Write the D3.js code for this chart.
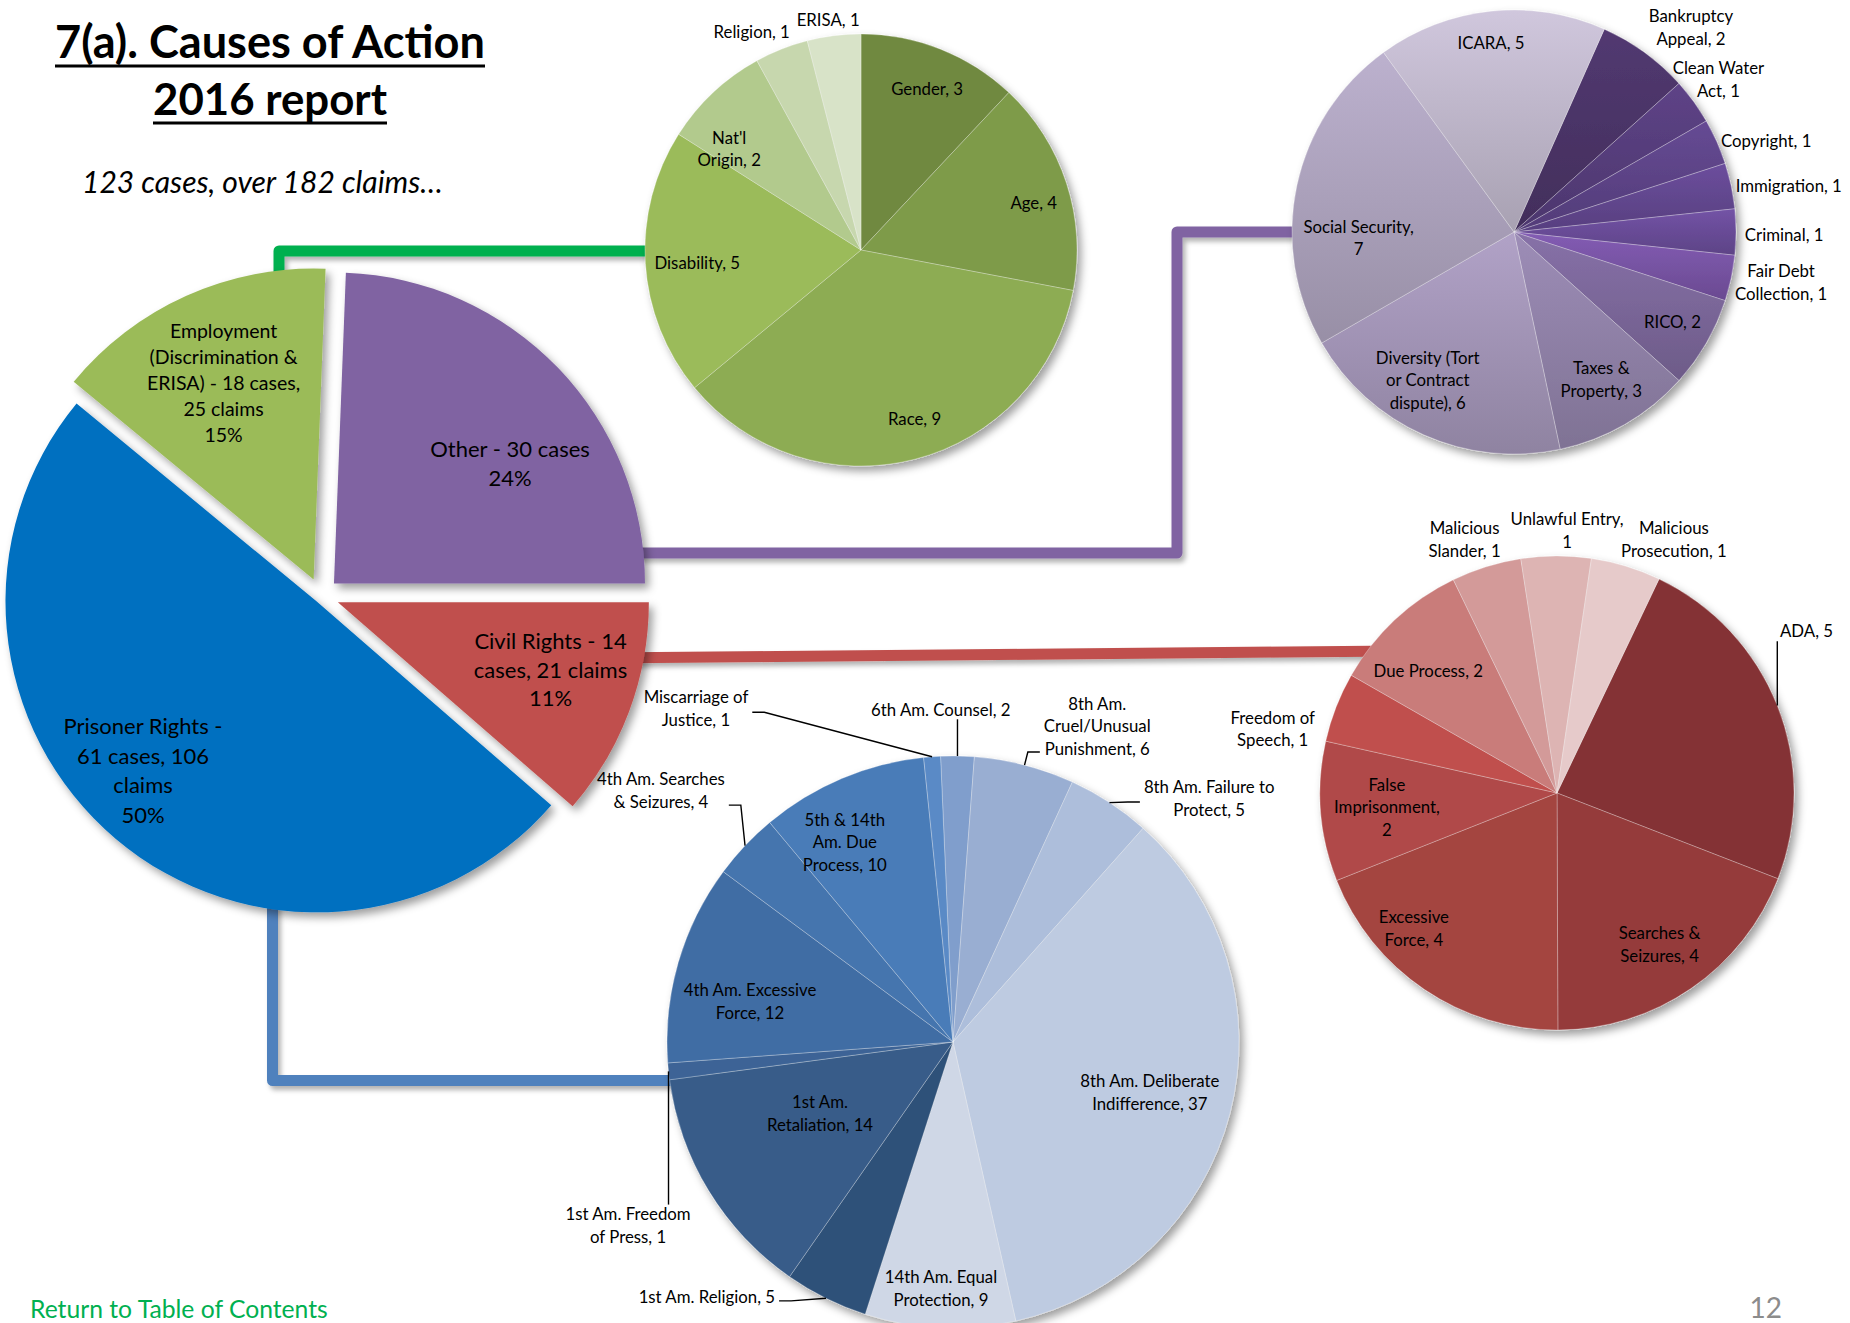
<!DOCTYPE html>
<html><head><meta charset="utf-8">
<script src="https://cdn.jsdelivr.net/npm/d3@7"></script>
<style>
body{margin:0;background:#fff;}
svg{display:block;font-family:Lato,"Open Sans","Noto Sans",sans-serif;}
</style>
</head><body>
<svg id="c" width="1850" height="1323"></svg>
<script>
// ---------------- DATA ----------------
const mainCategories = ["Other", "Civil Rights", "Prisoner Rights", "Employment (Discrimination & ERISA)"];
const mainCases = [30, 14, 61, 18];
const mainClaims = [null, 21, 106, 25];
const totalCases = 123;
const totalClaims = 182;

const employmentCategories = ["Gender", "Age", "Race", "Disability", "Nat'l Origin", "Religion", "ERISA"];
const employmentValues = [3, 4, 9, 5, 2, 1, 1];

const otherCategories = ["Bankruptcy Appeal", "Clean Water Act", "Copyright", "Immigration", "Criminal", "Fair Debt Collection", "RICO", "Taxes & Property", "Diversity (Tort or Contract dispute)", "Social Security", "ICARA"];
const otherValues = [2, 1, 1, 1, 1, 1, 2, 3, 6, 7, 5];

const civilCategories = ["ADA", "Searches & Seizures", "Excessive Force", "False Imprisonment", "Freedom of Speech", "Due Process", "Malicious Slander", "Unlawful Entry", "Malicious Prosecution"];
const civilValues = [5, 4, 4, 2, 1, 2, 1, 1, 1];

const prisonerCategories = ["6th Am. Counsel", "8th Am. Cruel/Unusual Punishment", "8th Am. Failure to Protect", "8th Am. Deliberate Indifference", "14th Am. Equal Protection", "1st Am. Religion", "1st Am. Retaliation", "1st Am. Freedom of Press", "4th Am. Excessive Force", "4th Am. Searches & Seizures", "5th & 14th Am. Due Process", "Miscarriage of Justice"];
const prisonerValues = [2, 6, 5, 37, 9, 5, 14, 1, 12, 4, 10, 1];

// ---------------- STYLE / LAYOUT ----------------
const mainColors = ["#8064A2", "#C0504D", "#0070C0", "#9BBB59"];
const employmentColors = ["#70893F", "#7E9B4A", "#8DAC53", "#9BBB5A", "#B2CA8D", "#C7D7AE", "#D8E3C8"];
const otherColors = ["#4A3466", "#553D7A", "#5C4386", "#62478E", "#684B96", "#7753A3", "#7A6698", "#8E80A6", "#A093B4", "#AAA0BA", "#BCB4C8"];
const civilColors = ["#843234", "#953B3B", "#A44441", "#B04A48", "#C0504D", "#C97B7A", "#D39A99", "#DDB4B3", "#E6CACA"];
const prisonerColors = ["#809ECC", "#99AED2", "#ADBEDB", "#BECBE1", "#CFD7E6", "#2F5179", "#375C89", "#3C6496", "#416DA4", "#4575AE", "#4A7CB8", "#5A8AC6"];

const W = 1850, H = 1323;
const svg = d3.select("#c");
const defs = svg.append("defs");
const flt = defs.append("filter").attr("id", "shadow")
  .attr("x", "-20%").attr("y", "-20%").attr("width", "150%").attr("height", "150%");
flt.append("feDropShadow").attr("dx", 4).attr("dy", 5).attr("stdDeviation", 4)
  .attr("flood-color", "#000").attr("flood-opacity", 0.38);
const flt2 = defs.append("filter").attr("id", "lshadow")
  .attr("x", "-5%").attr("y", "-20%").attr("width", "110%").attr("height", "160%");
flt2.append("feDropShadow").attr("dx", 3).attr("dy", 4).attr("stdDeviation", 2.5)
  .attr("flood-color", "#000").attr("flood-opacity", 0.3);

const rad = d => d * Math.PI / 180;
const deg = r => r * 180 / Math.PI;
const polar = (cx, cy, r, a) => [cx + r * Math.sin(rad(a)), cy - r * Math.cos(rad(a))];

function wrapWords(text, counts) {
  const words = text.split(" ");
  if (!counts) return [text];
  const out = []; let p = 0;
  counts.forEach(c => { out.push(words.slice(p, p + c).join(" ")); p += c; });
  return out;
}

// ---------------- CONNECTORS ----------------
const conn = svg.append("g").attr("filter", "url(#lshadow)")
  .attr("fill", "none").attr("stroke-width", 11).attr("stroke-linejoin", "round");
const line = d3.line();
conn.append("path").attr("stroke", "#00B050").attr("d", line([[279, 320], [279, 251], [720, 251]]));
conn.append("path").attr("stroke", "#8064A2").attr("d", line([[600, 553], [1177, 553], [1177, 232], [1320, 232]]));
conn.append("path").attr("stroke", "#C0504D").attr("d", line([[600, 658], [1400, 651]]));
conn.append("path").attr("stroke", "#4F81BD").attr("d", line([[272.5, 860], [272.5, 1080.5], [720, 1080.5]]));

// ---------------- PIE HELPERS ----------------
let gradCount = 0;
function drawPie(cx, cy, R, values, colors, startDeg, opts = {}) {
  const pie = d3.pie().sort(null).value(d => d)
    .startAngle(rad(startDeg)).endAngle(rad(startDeg) + 2 * Math.PI);
  const arcs = pie(values);
  const arc = d3.arc().innerRadius(0).outerRadius(R);
  const g = svg.append("g").attr("transform", `translate(${cx},${cy})`).attr("filter", "url(#shadow)");
  g.selectAll("path").data(arcs).join("path")
    .attr("d", arc)
    .attr("fill", (d, i) => {
      if (!opts.gradient) return colors[i];
      const id = "g" + (gradCount++);
      const lg = defs.append("linearGradient").attr("id", id)
        .attr("x1", 0).attr("y1", 0).attr("x2", 0).attr("y2", 1);
      lg.append("stop").attr("offset", 0).attr("stop-color", d3.color(colors[i]).brighter(0.28));
      lg.append("stop").attr("offset", 1).attr("stop-color", d3.color(colors[i]).darker(0.32));
      return `url(#${id})`;
    })
    .attr("stroke", "rgba(255,255,255,0.35)")
    .attr("stroke-width", 0.8);
  return arcs;
}

const labelLayer = () => svg.append("g").attr("fill", "#000");

function drawLabels(arcs, cx, cy, R, texts, layout, fs, lh) {
  const layer = labelLayer();
  arcs.forEach((d, i) => {
    const L = layout[i], lines = texts[i];
    const [px, py] = polar(cx, cy, L.k * R, L.a);
    const g = layer.append("g");
    const ts = lines.map(t => g.append("text").text(t).attr("font-size", fs)
      .attr("text-anchor", "middle").attr("dominant-baseline", "central"));
    const w = d3.max(ts, t => t.node().getComputedTextLength());
    let bx = px;
    if (L.anchor === "start") bx = px + w / 2;
    else if (L.anchor === "end") bx = px - w / 2;
    const n = lines.length;
    ts.forEach((t, j) => t.attr("x", bx).attr("y", py - (n - 1) * lh / 2 + j * lh));
    if (L.leader) {
      const mid = deg((d.startAngle + d.endAngle) / 2);
      const [ax, ay] = polar(cx, cy, R, mid);
      let pts;
      if (L.leader === "v") {
        const ly = py > ay ? py - n * lh / 2 + 2 : py + n * lh / 2 - 1;
        pts = [[ax, ay], [ax, ly]];
      } else {
        const leftOfArc = bx < ax;
        const sx = leftOfArc ? bx + w / 2 + 4 : bx - w / 2 - 4;
        const sy = py - (n - 1) * lh / 2 + L.attach * lh + 4;
        const ex = leftOfArc ? sx + 12 : sx - 12;
        pts = [[ax, ay], [ex, sy], [sx, sy]];
      }
      layer.append("path").attr("d", line(pts)).attr("fill", "none")
        .attr("stroke", "#000").attr("stroke-width", 1.4);
    }
  });
}

// ---------------- MAIN PIE (exploded) ----------------
const mainC = [321, 596], mainR = 311;
const mainExplode = [18, 18, 7, 18];
const mainStart = 90 - 360 * mainCases[0] / totalCases;
const mainPie = d3.pie().sort(null).value(d => d)
  .startAngle(rad(mainStart)).endAngle(rad(mainStart) + 2 * Math.PI);
const mainArcs = mainPie(mainCases);
const mainArc = d3.arc().innerRadius(0).outerRadius(mainR);
const mainG = svg.append("g").attr("filter", "url(#shadow)");
const mainCenters = mainArcs.map((d, i) => {
  const mid = deg((d.startAngle + d.endAngle) / 2);
  return polar(mainC[0], mainC[1], mainExplode[i], mid);
});
mainG.selectAll("path").data(mainArcs).join("path")
  .attr("transform", (d, i) => `translate(${mainCenters[i][0]},${mainCenters[i][1]})`)
  .attr("d", mainArc)
  .attr("fill", (d, i) => mainColors[i]);

const mainWrap = [[4], [4, 3], [3, 3, 1], [1, 2, 4, 2]];
const mainLabelLayout = [
  { a: 55.5, k: 0.687, fs: 22, lh: 29 },
  { a: 107.5, k: 0.717, fs: 22, lh: 28.5 },
  { a: 225.8, k: 0.778, fs: 22, lh: 29.5 },
  { a: 335.5, k: 0.698, fs: 19.5, lh: 26 }
];
const mainLayer = labelLayer();
mainArcs.forEach((d, i) => {
  const txt = mainCategories[i] + " - " + mainCases[i] + " cases" +
    (mainClaims[i] && i !== 0 ? ", " + mainClaims[i] + " claims" : "");
  const pct = Math.round(mainCases[i] / totalCases * 100) + "%";
  const lines = wrapWords(txt, mainWrap[i]).concat([pct]);
  const L = mainLabelLayout[i];
  const [px, py] = polar(mainCenters[i][0], mainCenters[i][1], L.k * mainR, L.a);
  const n = lines.length;
  lines.forEach((t, j) => mainLayer.append("text").text(t)
    .attr("x", px).attr("y", py - (n - 1) * L.lh / 2 + j * L.lh)
    .attr("font-size", L.fs).attr("text-anchor", "middle").attr("dominant-baseline", "central"));
});

// ---------------- EMPLOYMENT PIE ----------------
const SUBFS = 16.8, SUBLH = 22.5;
const empArcs = drawPie(861, 250, 216, employmentValues, employmentColors, 0);
const empWrap = [null, null, null, null, [1, 2], null, null];
const empLayout = [
  { a: 22.2, k: 0.81 }, { a: 74.5, k: 0.83 }, { a: 162.4, k: 0.82 }, { a: 265.8, k: 0.76 },
  { a: 307.6, k: 0.77 }, { a: 333.4, k: 1.13 }, { a: 351.9, k: 1.08 }
];
drawLabels(empArcs, 861, 250, 216,
  employmentCategories.map((c, i) => wrapWords(c + ", " + employmentValues[i], empWrap[i])),
  empLayout, SUBFS, SUBLH);

// ---------------- OTHER PIE ----------------
const othArcs = drawPie(1514, 232, 222, otherValues, otherColors, 24, { gradient: true });
const othWrap = [[1, 2], [2, 2], null, null, null, [2, 2], null, [2, 2], [2, 2, 2], [2, 1], null];
const othLayout = [
  { a: 40.8, k: 1.22 }, { a: 53.2, k: 1.15 },
  { a: 66.1, k: 1.02, anchor: "start" }, { a: 78.2, k: 1.02, anchor: "start" },
  { a: 90.7, k: 1.04, anchor: "start" }, { a: 102.7, k: 1.02, anchor: "start" },
  { a: 119.5, k: 0.82 }, { a: 149.3, k: 0.77 }, { a: 210.3, k: 0.77 },
  { a: 268, k: 0.70 }, { a: 353.1, k: 0.86 }
];
drawLabels(othArcs, 1514, 232, 222,
  otherCategories.map((c, i) => wrapWords(c + ", " + otherValues[i], othWrap[i])),
  othLayout, SUBFS, SUBLH);

// ---------------- CIVIL RIGHTS PIE ----------------
const civArcs = drawPie(1557, 793, 237, civilValues, civilColors, 25.5);
const civWrap = [null, [2, 2], [1, 2], [1, 1, 1], [2, 2], null, [1, 2], [2, 1], [1, 2]];
const civLayout = [
  { a: 54.0, k: 1.163, anchor: "start", leader: "v" },
  { a: 145.8, k: 0.77 }, { a: 226.7, k: 0.83 }, { a: 265.3, k: 0.72 },
  { a: 282.8, k: 1.23 }, { a: 313.6, k: 0.75 }, { a: 340, k: 1.14 },
  { a: 2.2, k: 1.11 }, { a: 24.7, k: 1.18 }
];
drawLabels(civArcs, 1557, 793, 237,
  civilCategories.map((c, i) => wrapWords(c + ", " + civilValues[i], civWrap[i])),
  civLayout, SUBFS, SUBLH);

// ---------------- PRISONER RIGHTS PIE ----------------
const priArcs = drawPie(953, 1042, 286, prisonerValues, prisonerColors, -2.5);
const priWrap = [null, [2, 1, 2], [4, 2], [3, 2], [3, 2], null, [2, 2], [3, 3], [3, 2], [3, 3], [3, 2, 2], [2, 2]];
const priLayout = [
  { a: 357.9, k: 1.165, leader: "v" },
  { a: 24.5, k: 1.216, leader: "elbow", attach: 2 },
  { a: 46.4, k: 1.237, leader: "elbow", attach: 0.5 },
  { a: 104.2, k: 0.71 },
  { a: 182.8, k: 0.861 },
  { a: 224, k: 1.239, leader: "elbow", attach: 0 },
  { a: 241.9, k: 0.527 },
  { a: 240.6, k: 1.304, leader: "v" },
  { a: 281.4, k: 0.724 },
  { a: 310.8, k: 1.349, leader: "elbow", attach: 1 },
  { a: 331.6, k: 0.795 },
  { a: 322.4, k: 1.473, leader: "elbow", attach: 0.5 }
];
drawLabels(priArcs, 953, 1042, 286,
  prisonerCategories.map((c, i) => wrapWords(c + ", " + prisonerValues[i], priWrap[i])),
  priLayout, SUBFS, SUBLH);

// ---------------- TITLES ----------------
function fitText(sel, width) {
  const w = sel.node().getComputedTextLength();
  const fs = parseFloat(sel.attr("font-size"));
  sel.attr("font-size", fs * width / w);
}
const t1 = svg.append("text").text("7(a). Causes of Action").attr("x", 55).attr("y", 58)
  .attr("font-size", 50).attr("font-weight", 700);
fitText(t1, 430);
svg.append("rect").attr("x", 55).attr("y", 64.5).attr("width", 430).attr("height", 3).attr("fill", "#000");
const t2 = svg.append("text").text("2016 report").attr("x", 153).attr("y", 115)
  .attr("font-size", 50).attr("font-weight", 700);
fitText(t2, 234);
svg.append("rect").attr("x", 153).attr("y", 121.5).attr("width", 234).attr("height", 3).attr("fill", "#000");
const t3 = svg.append("text").text(totalCases + " cases, over " + totalClaims + " claims\u2026")
  .attr("x", 82).attr("y", 193).attr("font-size", 28).attr("font-style", "italic");
fitText(t3, 361);

const ft = svg.append("text").text("Return to Table of Contents").attr("x", 30).attr("y", 1318)
  .attr("font-size", 24).attr("fill", "#00B050");
fitText(ft, 298);
svg.append("text").text("12").attr("x", 1782).attr("y", 1318).attr("text-anchor", "end")
  .attr("font-size", 28).attr("fill", "#8C8C8C");
</script>
</body></html>
